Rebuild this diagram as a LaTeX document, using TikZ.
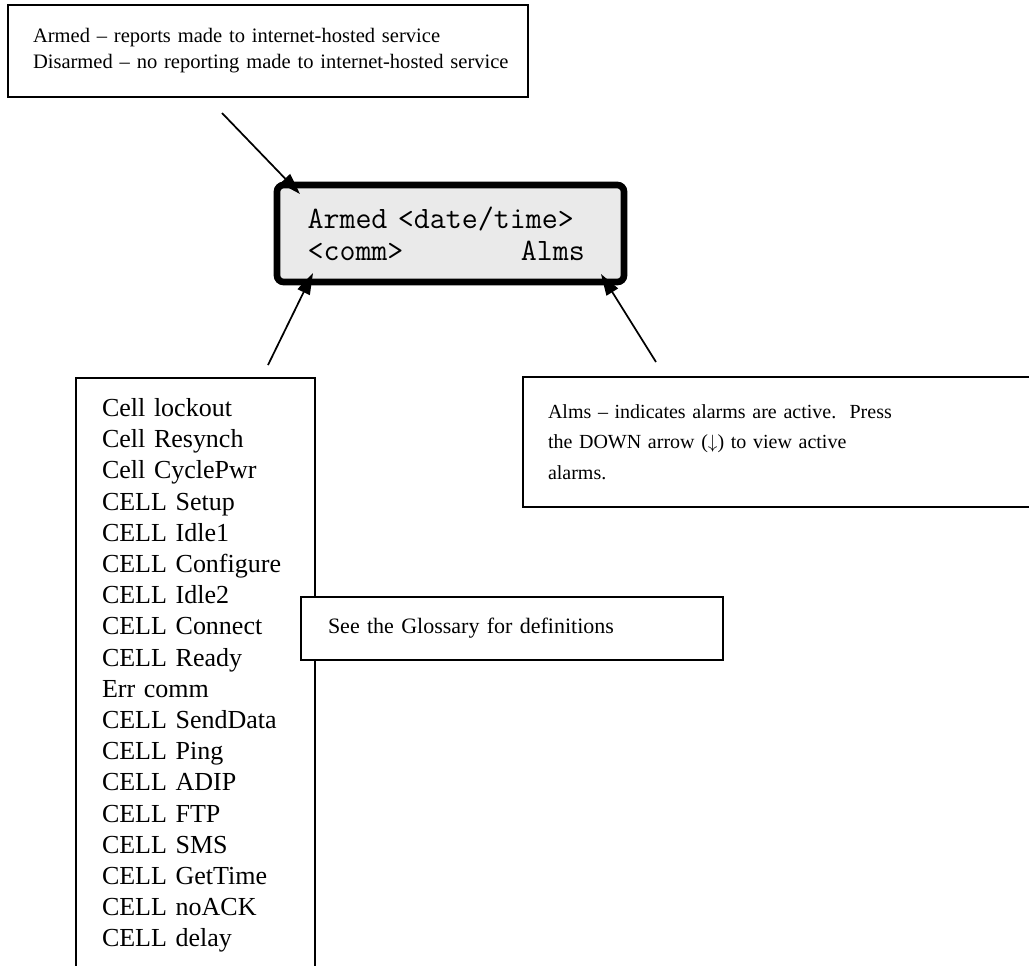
\documentclass[tikz,border=0pt]{standalone}
\usepackage{fontspec}
\setmainfont{Liberation Serif}
\usetikzlibrary{arrows.meta}

\definecolor{lcdGray}{RGB}{234,234,234}

\begin{document}
\begin{tikzpicture}[
    x=0.75pt, y=-0.75pt,
    noteBox/.style={draw, line width=1.3pt, fill=white, align=left, anchor=north west, outer sep=0pt},
    lcdBox/.style={draw, line width=5pt, rounded corners=5pt, fill=lcdGray, align=left, anchor=north west, outer sep=0pt},
    noteFont/.style={font=\fontsize{15.4}{19.5}\selectfont},
    listFont/.style={font=\fontsize{19.5}{23.4}\selectfont},
    pointer/.style={-{Triangle[length=16pt, width=10pt]}, line width=1.3pt}
    ]
    \useasboundingbox (0, 0) rectangle (1029, 965);
    \clip (0, 0) rectangle (1029, 965);

    % top explanation
    \node[noteBox, noteFont, minimum width=390pt, minimum height=69pt, text width=352.5pt] (armedinfo) at (8, 5)
        {\mbox{Armed -- reports made to internet-hosted service}\\
         \mbox{Disarmed -- no reporting made to internet-hosted service}};

    % display
    \node[lcdBox, font=\fontsize{23.3}{24}\ttfamily, minimum width=260.25pt, minimum height=72.75pt, text width=214.5pt] (lcd) at (277, 185)
        {Armed <date/time>\\
         \makebox[208pt]{<comm>\hfill Alms}};

    % comm states
    \node[noteBox, listFont, minimum width=179.25pt, minimum height=446.25pt, text width=140.25pt] (commlist) at (76, 378)
        {Cell lockout\\ Cell Resynch\\ Cell CyclePwr\\ CELL Setup\\ CELL Idle1\\ CELL Configure\\
         CELL Idle2\\ CELL Connect\\ CELL Ready\\ Err comm\\ CELL SendData\\ CELL Ping\\
         CELL ADIP\\ CELL FTP\\ CELL SMS\\ CELL GetTime\\ CELL noACK\\ CELL delay};

    \node[noteBox, minimum width=391.5pt, minimum height=97.5pt, text width=354pt, font=\fontsize{15}{22.9}\selectfont] (almsinfo) at (523, 377)
        {Alms -- indicates alarms are active.\ \ Press\\
         the DOWN arrow ($\downarrow$) to view active\\
         alarms.};

    \node[noteBox, font=\fontsize{16.5}{19.5}\selectfont, minimum width=316.5pt, minimum height=47.25pt, text width=276pt] (glossary) at (301, 597)
        {See the Glossary for definitions};

    \coordinate (armedtail) at (222, 113);
    \coordinate (armedtip) at (300, 194);
    \coordinate (commtail) at (268, 365);
    \coordinate (commtip) at (313, 273);
    \coordinate (almstail) at (656, 362);
    \coordinate (almstip) at (601, 274);

    \draw[pointer] (armedtail) -- (armedtip);
    \draw[pointer] (commtail) -- (commtip);
    \draw[pointer] (almstail) -- (almstip);
\end{tikzpicture}
\end{document}
